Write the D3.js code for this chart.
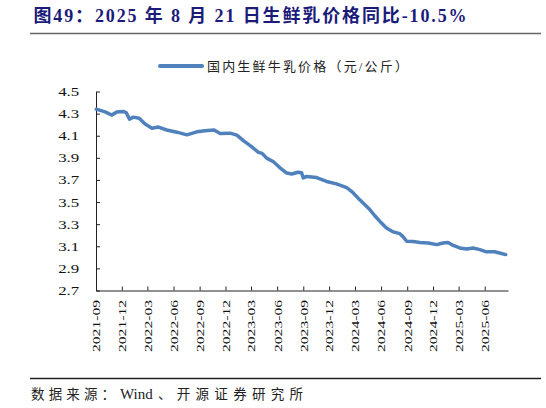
<!DOCTYPE html>
<html>
<head>
<meta charset="utf-8">
<script src="https://cdn.jsdelivr.net/npm/d3@7"></script>
<style>
  body { margin: 0; background: #fff; }
  svg { display: block; }
</style>
</head>
<body>
<div id="chart"></div>
<script>
const dates = [
  "2021-09-02", "2021-10-03", "2021-10-27", "2021-11-13", "2021-12-06", "2021-12-16", "2021-12-28",
  "2022-01-11", "2022-01-31", "2022-02-21", "2022-03-17", "2022-04-09", "2022-05-08", "2022-06-13",
  "2022-07-18", "2022-08-22", "2022-09-20", "2022-10-22", "2022-11-12", "2022-12-17",
  "2023-01-10", "2023-02-02", "2023-02-26", "2023-03-27", "2023-04-09", "2023-04-25", "2023-05-19",
  "2023-06-11", "2023-07-05", "2023-07-22", "2023-08-14", "2023-08-26", "2023-09-01", "2023-09-13",
  "2023-10-18", "2023-11-22", "2023-12-27",
  "2024-02-01", "2024-02-19", "2024-03-18", "2024-04-23", "2024-05-10", "2024-05-28", "2024-06-20",
  "2024-07-14", "2024-08-06", "2024-08-18", "2024-08-30", "2024-09-22", "2024-10-16", "2024-11-14",
  "2024-12-14",
  "2025-01-05", "2025-01-23", "2025-02-10", "2025-03-05", "2025-03-29", "2025-04-21", "2025-05-15",
  "2025-06-07", "2025-07-06", "2025-07-30", "2025-08-14"
];
const prices = [
  4.34, 4.315, 4.287, 4.315, 4.32, 4.31, 4.25,
  4.268, 4.258, 4.205, 4.168, 4.178, 4.152, 4.132,
  4.108, 4.135, 4.145, 4.152, 4.12, 4.123,
  4.105, 4.055, 4.01, 3.95, 3.94, 3.897, 3.865,
  3.81, 3.762, 3.754, 3.77, 3.765, 3.718, 3.732,
  3.722, 3.686, 3.664,
  3.63, 3.595, 3.52, 3.43, 3.376, 3.325, 3.265,
  3.23, 3.214, 3.185, 3.145, 3.144, 3.135, 3.13,
  3.115,
  3.13, 3.135, 3.108, 3.085, 3.076, 3.085, 3.07,
  3.05, 3.05, 3.035, 3.025
];
const xTickLabels = [
  "2021-09", "2021-12", "2022-03", "2022-06", "2022-09", "2022-12", "2023-03", "2023-06",
  "2023-09", "2023-12", "2024-03", "2024-06", "2024-09", "2024-12", "2025-03", "2025-06"
];
const yTicks = [2.7, 2.9, 3.1, 3.3, 3.5, 3.7, 3.9, 4.1, 4.3, 4.5];

const titleText = "图49：2025 年 8 月 21 日生鲜乳价格同比-10.5%";
const legendText = "国内生鲜牛乳价格（元/公斤）";
const sourceParts = ["数据来源：", "Wind", "、开源证券研究所"];

const width = 546, height = 408;
const fontFamily = "'Liberation Serif', 'Noto Sans CJK SC', serif";
const lineColor = "#4f81bd";

const parseDay = d3.timeParse("%Y-%m-%d");
const parseMonth = d3.timeParse("%Y-%m");

const data = dates.map((d, i) => ({ date: parseDay(d), value: prices[i] }));

const svg = d3.select("#chart")
  .append("svg")
    .attr("width", width)
    .attr("height", height)
    .style("font-family", fontFamily);

// title + rules
svg.append("text")
  .attr("x", 33.5)
  .attr("y", 21.5)
  .attr("textLength", 433)
  .attr("lengthAdjust", "spacing")
  .style("font-size", "18px")
  .style("font-weight", "bold")
  .style("fill", "#1b1b7a")
  .text(titleText);

svg.append("line")
  .attr("x1", 30).attr("x2", 541)
  .attr("y1", 33.5).attr("y2", 33.5)
  .attr("stroke", "#666")
  .attr("stroke-width", 1.5);

svg.append("line")
  .attr("x1", 30).attr("x2", 541)
  .attr("y1", 378.5).attr("y2", 378.5)
  .attr("stroke", "#222")
  .attr("stroke-width", 1.3);

// source line, split so the latin word keeps its natural spacing
const source = svg.append("text")
  .attr("y", 399)
  .style("font-size", "13.5px")
  .style("fill", "#222");

source.append("tspan")
  .attr("x", 31)
  .attr("textLength", 84)
  .attr("lengthAdjust", "spacing")
  .text(sourceParts[0]);

source.append("tspan")
  .attr("x", 120)
  .style("font-size", "15px")
  .text(sourceParts[1]);

source.append("tspan")
  .attr("x", 158)
  .attr("textLength", 145)
  .attr("lengthAdjust", "spacing")
  .text(sourceParts[2]);

// legend
svg.append("line")
  .attr("x1", 160).attr("x2", 202)
  .attr("y1", 66).attr("y2", 66)
  .attr("stroke", lineColor)
  .attr("stroke-width", 4)
  .attr("stroke-linecap", "round");

svg.append("text")
  .attr("x", 207)
  .attr("y", 70.5)
  .attr("textLength", 201)
  .attr("lengthAdjust", "spacing")
  .style("font-size", "13px")
  .style("fill", "#222")
  .text(legendText);

// scales
const x = d3.scaleTime()
  .domain([parseDay("2021-09-01"), parseDay("2025-08-22")])
  .range([96, 508]);

const y = d3.scaleLinear()
  .domain([2.7, 4.5])
  .range([290.5, 91.5]);

// axes
const yAxis = svg.append("g")
  .attr("transform", "translate(96,0)")
  .call(d3.axisLeft(y)
    .tickValues(yTicks)
    .tickFormat(d3.format(".1f"))
    .tickSizeInner(-4)
    .tickSizeOuter(0));

yAxis.selectAll("text")
  .attr("x", -12.4)
  .attr("transform", "scale(1.35,1)")
  .style("font-size", "12.5px")
  .style("font-family", fontFamily)
  .style("fill", "#111");

const xAxis = svg.append("g")
  .attr("transform", "translate(0,290.5)")
  .call(d3.axisBottom(x)
    .tickValues(xTickLabels.map(parseMonth))
    .tickFormat(d3.timeFormat("%Y-%m"))
    .tickSizeInner(-4)
    .tickSizeOuter(0));

xAxis.selectAll("text")
  .attr("y", 0)
  .attr("x", -6.7)
  .attr("dy", "0.35em")
  .attr("transform", "rotate(-90) scale(1.42,1)")
  .style("text-anchor", "end")
  .style("font-size", "11px")
  .style("font-family", fontFamily)
  .style("fill", "#111");

svg.selectAll(".domain, .tick line").attr("stroke", "#222");

// price line
const line = d3.line()
  .x(d => x(d.date))
  .y(d => y(d.value));

svg.append("path")
  .datum(data)
  .attr("fill", "none")
  .attr("stroke", lineColor)
  .attr("stroke-width", 3.5)
  .attr("stroke-linejoin", "round")
  .attr("stroke-linecap", "round")
  .attr("d", line);
</script>
</body>
</html>
